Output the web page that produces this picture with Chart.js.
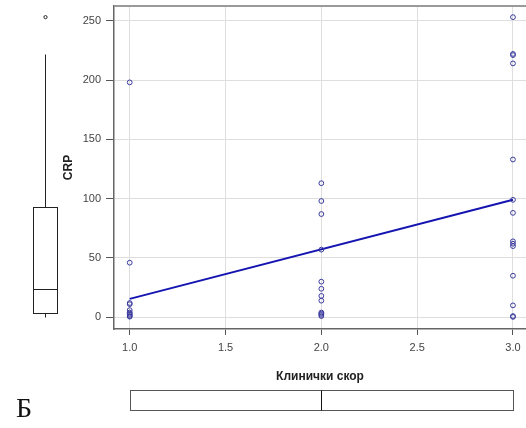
<!DOCTYPE html>
<html><head><meta charset="utf-8">
<script src="https://cdn.jsdelivr.net/npm/chart.js@4.4.0/dist/chart.umd.min.js"></script>
<style>
html,body{margin:0;padding:0;background:#fff;}
#wrap{position:relative;width:526px;height:428px;}
#label{position:absolute;left:16px;top:392px;font-family:"Liberation Serif","DejaVu Serif",serif;font-size:28px;line-height:32px;color:#111;}
</style></head><body>
<div id="wrap"><canvas id="c" width="526" height="428"></canvas><div id="label">Б</div></div>
<script>
// Tick labels
const xTicks = [1.0, 1.5, 2.0, 2.5, 3.0];
const yTicks = [0, 50, 100, 150, 200, 250];
// CRP values per clinical score
const crpScore1 = [198, 46, 12, 11, 6, 4, 3, 2, 1, 0.5];
const crpScore2 = [113, 98, 87, 57, 30, 24, 18, 14, 4, 3, 2, 1];
const crpScore3 = [253, 222, 221, 214, 133, 99, 88, 64, 62, 60, 35, 10, 1, 0.3];
// Regression line (read at x = 1 and x = 3)
const fitX = [1, 3];
const fitY = [15.5, 99];
// Marginal boxplots: [lower whisker, Q1, median, Q3, upper whisker]
const crpBox = [0.5, 4, 24, 93, 222];
const crpOutliers = [253];
const scoreBox = [1, 1, 2, 3, 3];

const points = [];
crpScore1.forEach(v => points.push({x: 1, y: v}));
crpScore2.forEach(v => points.push({x: 2, y: v}));
crpScore3.forEach(v => points.push({x: 3, y: v}));
const fitLine = fitX.map((x, i) => ({x: x, y: fitY[i]}));

const boxPlugin = {
  id: 'boxes',
  afterDraw(chart) {
    const ctx = chart.ctx, xs = chart.scales.x, ys = chart.scales.y, a = chart.chartArea;
    ctx.save();
    // top frame line
    ctx.strokeStyle = '#9a9a9a'; ctx.lineWidth = 2;
    ctx.beginPath(); ctx.moveTo(a.left, a.top); ctx.lineTo(a.right, a.top); ctx.stroke();
    // left (CRP) boxplot
    const py = v => Math.round(ys.getPixelForValue(v)) + 0.5;
    const cx = 45.5, hw = 12;
    ctx.strokeStyle = '#222'; ctx.lineWidth = 1;
    ctx.beginPath();
    ctx.moveTo(cx, py(crpBox[0])); ctx.lineTo(cx, py(crpBox[1]));
    ctx.moveTo(cx, py(crpBox[3])); ctx.lineTo(cx, py(crpBox[4]));
    ctx.stroke();
    ctx.strokeRect(cx - hw, py(crpBox[3]), 2 * hw, py(crpBox[1]) - py(crpBox[3]));
    ctx.beginPath(); ctx.moveTo(cx - hw, py(crpBox[2])); ctx.lineTo(cx + hw, py(crpBox[2])); ctx.stroke();
    crpOutliers.forEach(v => { ctx.beginPath(); ctx.arc(cx, ys.getPixelForValue(v), 1.6, 0, 2 * Math.PI); ctx.stroke(); });
    // bottom (score) boxplot
    const px = v => Math.round(xs.getPixelForValue(v)) + 0.5;
    const top = 390.5, bot = 410.5, my = (top + bot) / 2;
    ctx.strokeStyle = '#555';
    ctx.strokeRect(px(scoreBox[1]), top, px(scoreBox[3]) - px(scoreBox[1]), bot - top);
    ctx.beginPath();
    ctx.moveTo(px(scoreBox[0]), my); ctx.lineTo(px(scoreBox[1]), my);
    ctx.moveTo(px(scoreBox[3]), my); ctx.lineTo(px(scoreBox[4]), my);
    ctx.stroke();
    ctx.strokeStyle = '#111';
    ctx.beginPath(); ctx.moveTo(px(scoreBox[2]), top); ctx.lineTo(px(scoreBox[2]), bot); ctx.stroke();
    ctx.restore();
  }
};

const tickFont = {family: '"Liberation Sans", Arial, sans-serif', size: 11};
const titleFont = {family: '"Liberation Sans", Arial, sans-serif', size: 12, weight: 'bold'};

new Chart(document.getElementById('c'), {
  type: 'scatter',
  data: {
    datasets: [
      {type: 'line', data: fitLine, borderColor: '#1414b0', borderWidth: 2, pointRadius: 0, fill: false, order: 2},
      {data: points, pointRadius: 2.4, borderWidth: 1, borderColor: '#3a3a9e', backgroundColor: 'rgba(255,255,255,0)', order: 1}
    ]
  },
  options: {
    responsive: false, animation: false, devicePixelRatio: 1,
    layout: {autoPadding: false, padding: {left: 61, right: 0, top: 6, bottom: 44}},
    plugins: {legend: {display: false}, tooltip: {enabled: false}},
    scales: {
      x: {
        type: 'linear', min: 0.918, max: 3.068,
        afterBuildTicks: s => { s.ticks = xTicks.map(v => ({value: v})); },
        afterFit: s => { s.height = 55; s.paddingLeft = 0; s.paddingRight = 0; },
        ticks: {callback: v => Number(v).toFixed(1), font: tickFont, color: '#444', padding: 6, maxRotation: 0, autoSkip: false},
        grid: {color: '#dedede', lineWidth: 1, tickColor: '#555', tickLength: 6},
        border: {color: '#666', width: 1.5},
        title: {display: true, text: 'Клинички скор', font: titleFont, color: '#222', padding: 0}
      },
      y: {
        type: 'linear', min: -9.9, max: 262.4,
        afterBuildTicks: s => { s.ticks = yTicks.map(v => ({value: v})); },
        afterFit: s => { s.width = 53; s.paddingTop = 0; s.paddingBottom = 0; },
        ticks: {font: tickFont, color: '#444', padding: 5, autoSkip: false},
        grid: {color: '#dedede', lineWidth: 1, tickColor: '#555', tickLength: 8},
        border: {color: '#666', width: 1.5},
        title: {display: true, text: 'CRP', font: titleFont, color: '#222', padding: 0}
      }
    }
  },
  plugins: [boxPlugin]
});
</script>
</body></html>
